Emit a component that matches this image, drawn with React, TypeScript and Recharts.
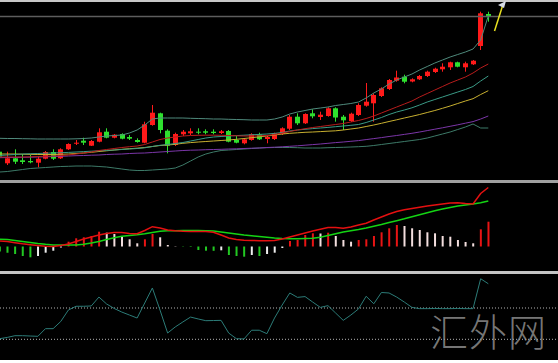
import React from 'react';
import { ComposedChart, Bar, Line, XAxis, YAxis, ReferenceLine, Cell } from 'recharts';

// ---- candle data (65 bars, first one partially cut at the left edge) ----
const opens = [29.3, 17.7, 22.7, 20.7, 20, 18.3, 22.3, 29, 22.7, 31.7, 37.3, 40.3, 35.3, 39.3, 49.3, 43.3, 47, 44, 41, 38.3, 56, 67.7, 50.3, 36, 46.7, 47.7, 49.3, 49.7, 49.3, 48, 50, 41, 37.7, 41, 46.7, 42, 42, 47, 52.3, 64.3, 57.7, 67.7, 64, 65, 72.7, 64.3, 60, 66, 75.3, 77.7, 85, 92, 100.3, 104.3, 99.5, 101.7, 105, 109, 111.7, 113.7, 118.7, 113.7, 116.7, 135, 167];
const closes = [24.3, 22.7, 19.3, 19, 18.7, 22.3, 29, 22.3, 31.7, 37, 38.3, 38.3, 40, 48.7, 43.3, 46.3, 42.3, 42.3, 39, 56.7, 68.3, 51, 35.3, 47, 49.3, 49.7, 48.3, 48.3, 48, 49.7, 39.3, 38.3, 41.7, 46.7, 41.7, 44, 47.7, 52.7, 64.3, 57.7, 67, 64.7, 66.3, 72.7, 63.5, 60.7, 67.3, 76, 79.3, 86, 92.7, 101, 103.5, 99.3, 101.7, 105, 109.3, 112.3, 114.3, 118.7, 114.3, 117.7, 120.3, 167.7, 164.3];
const highs = [31, 29.3, 31.7, 27, 26, 24.3, 30, 31.7, 32.7, 37.7, 41, 43.3, 41, 52.7, 52.7, 47, 47.7, 46, 42.7, 59.3, 76, 68.3, 51.7, 48.3, 51, 52.7, 52.7, 51.7, 51.7, 51, 51, 45, 42.7, 47.7, 48.3, 46, 48.3, 53.7, 66, 67.7, 67.7, 71.7, 69.3, 73.7, 73.7, 66, 68.3, 77.7, 98, 87.7, 93.7, 102, 110.3, 106.3, 102.7, 106, 110.3, 113.3, 117.7, 119.3, 119.3, 119.3, 121, 169.3, 169.3];
const lows = [22, 16, 17, 17, 17.7, 13.7, 21.7, 21, 22, 31, 36, 36, 35, 38.7, 42.7, 42.7, 41.7, 41, 38.3, 37.7, 55.3, 47.7, 27.7, 35, 45, 46, 46.7, 46.7, 46.7, 47, 38.7, 37.7, 36.7, 40.3, 41, 37.7, 41, 46, 51, 56, 57, 62.7, 61, 64.3, 59.3, 51, 59, 65, 74.3, 59.3, 84, 91, 99.3, 97.7, 98.7, 101, 104, 108, 109.3, 111, 113.7, 109.3, 116, 131, 159.3];

// ---- overlays on the price panel ----
const upperBand = [42.7, 42.5, 42.5, 42.3, 42.2, 42, 42, 42, 42, 42, 42.2, 42.5, 43, 44, 45, 45.5, 46, 48, 51, 56, 62, 63, 63, 63, 63, 62.7, 62.5, 62.3, 62, 62, 61.7, 61.5, 61.3, 61, 61, 61, 62, 64, 67, 69, 70.5, 72, 73, 74, 75.5, 76.5, 77.5, 79, 83, 88, 92, 97, 101, 104, 107, 111, 114.5, 118, 121, 124, 126.5, 129, 132, 141, 165];
const lowerBand = [9, 9.5, 10.5, 11.5, 12.5, 13, 13.5, 14, 14.5, 14.7, 15, 15, 15, 14.5, 14, 13, 12, 11, 10.5, 10.5, 11, 11.5, 12, 13, 16, 20, 24, 27, 29, 30.5, 31, 31.5, 32, 32.5, 33, 33.3, 33.5, 33.5, 33.5, 33.3, 33, 33, 33, 33.3, 33.5, 33.7, 34, 34.3, 34.7, 35.5, 36.5, 37.5, 38.5, 39.5, 40.5, 41.5, 43, 45, 47, 49, 51.5, 54, 57, 53, 53];
const midBand = [25.5, 26, 26.5, 27, 27.3, 27.5, 27.8, 28, 28.3, 28.6, 29, 29.4, 29.8, 30.2, 30.6, 31, 31.5, 32, 32.5, 33.2, 34.5, 35.7, 36.5, 37.5, 38.5, 40, 41.5, 43, 44, 44.5, 45, 45.4, 45.8, 46.2, 46.6, 47, 47.6, 48.5, 50, 51, 51.7, 52.4, 53, 53.6, 54.3, 55, 55.7, 56.5, 58.5, 61, 63.5, 66.5, 69, 71, 73.2, 76, 79, 81.5, 84, 86.5, 89, 91.5, 94.5, 100, 105];
const maYellow = [27, 27, 27, 26.8, 26.6, 26.5, 26.5, 26.5, 26.7, 27, 27.5, 28, 28.7, 29.5, 30.2, 31, 31.7, 32.3, 32.8, 33.5, 34.5, 35.5, 36, 36.7, 37.7, 38.4, 39, 39.5, 40, 40.5, 41, 41.7, 42.5, 43.3, 44.2, 45, 46, 47, 47.7, 48.2, 48.7, 49, 49.4, 49.8, 50.2, 51, 52, 53, 54.5, 56, 57.7, 59.5, 61.2, 63, 64.7, 66.5, 68.5, 70.5, 72.7, 75, 77.5, 80, 82.3, 86.5, 90.3];
const maPurple = [23.3, 23.5, 23.5, 23.7, 23.8, 24, 24.2, 24.5, 24.7, 25, 25.3, 25.5, 25.8, 26, 26.5, 26.8, 27, 27.5, 27.8, 28, 28.5, 29, 29.5, 30, 30.5, 30.8, 31, 31.3, 31.5, 31.7, 32, 32.2, 32.5, 32.8, 33, 33.5, 33.8, 34.2, 34.7, 35.2, 35.8, 36.4, 37, 37.7, 38.4, 39, 39.7, 40.4, 41.4, 42.4, 43.4, 44.5, 45.5, 46.6, 47.7, 49, 50.4, 51.8, 53.2, 54.7, 56.2, 57.8, 59.4, 62, 65];
const maRed = [24, 24, 24, 24, 24.2, 24.5, 24.8, 25, 25.5, 26, 27, 28, 29, 30.5, 31.5, 32.5, 33.5, 34.3, 35, 36.5, 39, 41.5, 43, 44, 45, 45.5, 45.7, 45.8, 45.8, 45.7, 45.5, 45.2, 45, 45, 45.2, 45.5, 46.5, 47.8, 49.5, 51, 52.3, 53.5, 54.5, 55.5, 56.5, 57.5, 59, 60.5, 62.5, 65, 68, 71, 74, 77, 80, 84, 87.5, 91, 94.5, 98, 101, 104, 108, 113, 117];
const priceLevel = 164.5;

// ---- MACD panel ----
const macdLine = [5.5, 5, 3.8, 2.7, 1.8, 1, 0.2, 0, 1, 2.5, 5, 7.5, 9.5, 11.5, 13, 14, 14, 13, 12.8, 16, 19.8, 18.5, 16.5, 15.8, 15.3, 15, 15, 15, 14.3, 11.5, 8.5, 7, 6.2, 6, 5.8, 5.8, 6, 7.5, 9.5, 11.5, 13.5, 15.5, 17.2, 19, 19, 18.3, 19.5, 21.5, 23.2, 26.5, 29.5, 32.5, 35, 36.8, 38, 39.3, 40.5, 41.5, 42.5, 43.5, 43.8, 43, 42.5, 53, 59];
const signalLine = [7.2, 7, 6, 5, 4, 3, 2.2, 1.6, 1.5, 1.5, 1.5, 2.3, 3.5, 5, 7, 8.8, 10.2, 11, 11.8, 12.8, 14, 15.3, 15.8, 15.8, 16, 16, 16, 15.8, 15.5, 14.5, 13.5, 12.5, 11.5, 10.8, 10, 9.3, 8.5, 8, 7.8, 7.8, 8, 8.2, 9.3, 11, 12.8, 14.5, 15.8, 17, 18.5, 20.3, 22, 24, 25.8, 27.7, 29.8, 31.8, 33.8, 35.8, 37.5, 39, 40.5, 41.5, 42.5, 43.8, 45.5];
const histogram = [-5, -6.2, -7.5, -9.5, -10.8, -9.5, -6.2, -4.2, -1, 4.8, 8.2, 9.2, 10.5, 14.8, 13.8, 12.5, 9.8, 7.2, 3.2, 7.2, 12.5, 9.2, 1.5, 0.3, -0.3, -0.5, -3.5, -4.2, -4.3, -3.8, -8.5, -9.5, -10.2, -8.5, -9.5, -7.5, -6.2, -1.5, 5.5, 6.5, 11.5, 13.2, 13, 13.8, 10.5, 6.5, 4.8, 6.5, 7.2, 10.5, 14.2, 18.2, 21.5, 20.5, 18.2, 16.5, 14.2, 13.2, 10.5, 9.8, 6.5, 4.5, 3.2, 17.2, 24.8];

// ---- oscillator panel ----
const oscillator = [30.4, 31.2, 32.3, 32.3, 32.1, 31.9, 36.8, 36.8, 41.4, 48.7, 51.1, 51.1, 51.3, 57.0, 52.6, 49.7, 47.4, 45.5, 43.6, 53.2, 62.8, 48.7, 34.0, 37.9, 41.1, 44.2, 43.0, 41.9, 42.0, 42.1, 34.0, 30.4, 30.2, 35.8, 35.8, 33.6, 43.6, 51.9, 59.6, 56.8, 57.3, 53.8, 50.4, 51.5, 46.8, 42.1, 45.5, 49.4, 57.5, 52.7, 59.9, 59.6, 57.0, 53.8, 50.4, 49.6, 49.6, 49.7, 49.6, 49.6, 49.7, 49.6, 49.6, 68.7, 65.5];
const oscLevels = [50, 30];

const RED = '#ff1a1a';
const GREEN = '#2ee02e';
const X_DOMAIN: [number, number] = [0.043, 73.13];
const W = 558;

const rows = opens.map((o, k) => ({
  k,
  open: o,
  close: closes[k],
  high: highs[k],
  low: lows[k],
  upper: upperBand[k],
  lower: lowerBand[k],
  mid: midBand[k],
  yellow: maYellow[k],
  purple: maPurple[k],
  red: maRed[k],
  macd: macdLine[k],
  signal: signalLine[k],
  hist: histogram[k],
  osc: oscillator[k],
}));

const histColor = (k: number) => {
  const v = histogram[k];
  const prev = k > 0 ? histogram[k - 1] : v;
  if (v >= 0) return v >= prev ? '#e81414' : '#f3dede';
  return v <= prev ? '#22c822' : '#eeeeee';
};

const Candle = (props: any) => {
  const { x, y, width, height, payload } = props;
  if (x == null || y == null || !payload) return null;
  const { open, close, high, low } = payload;
  const color = close >= open ? RED : GREEN;
  const top = Math.min(y, y + height);
  const h = Math.abs(height);
  const ratio = high === low ? 0 : h / (high - low);
  const bodyTop = top + (high - Math.max(open, close)) * ratio;
  const bodyH = Math.max(1, Math.abs(open - close) * ratio);
  const cx = Math.round(x + width / 2) + 0.5;
  return (
    <g>
      <line x1={cx} x2={cx} y1={top} y2={top + h} stroke={color} strokeWidth={1} />
      <rect x={cx - width / 2} y={bodyTop} width={width} height={bodyH} fill={color} />
    </g>
  );
};

const margin = { top: 0, right: 0, bottom: 0, left: 0 };

export default function App() {
  return (
    <div style={{ position: 'absolute', left: 0, top: 0, width: W, height: 363, background: '#ffffff', overflow: 'hidden' }}>
      <div style={{ position: 'absolute', left: 0, top: 0, width: W, height: 360, background: '#000' }} />

      {/* price panel */}
      <div style={{ position: 'absolute', left: 0, top: 0 }}>
        <ComposedChart width={W} height={181} data={rows} margin={margin}>
          <XAxis type="number" dataKey="k" domain={X_DOMAIN} hide allowDataOverflow />
          <YAxis type="number" domain={[0, 181]} hide allowDataOverflow />
          <ReferenceLine y={priceLevel} stroke="#5e5e5e" strokeWidth={1.5} />
          <Line dataKey="lower" stroke="#3d7a68" strokeWidth={1} dot={false} isAnimationActive={false} />
          <Line dataKey="purple" stroke="#7b36a8" strokeWidth={1} dot={false} isAnimationActive={false} />
          <Line dataKey="yellow" stroke="#c8b030" strokeWidth={1} dot={false} isAnimationActive={false} />
          <Line dataKey="mid" stroke="#3a9a86" strokeWidth={1} dot={false} isAnimationActive={false} />
          <Line dataKey="red" stroke="#b81c1c" strokeWidth={1} dot={false} isAnimationActive={false} />
          <Line dataKey="upper" stroke="#4f8a7c" strokeWidth={1} dot={false} isAnimationActive={false} />
          <Bar dataKey={(d: any) => [d.low, d.high]} barSize={5} shape={<Candle />} isAnimationActive={false} />
        </ComposedChart>
      </div>

      {/* MACD panel */}
      <div style={{ position: 'absolute', left: 0, top: 183 }}>
        <ComposedChart width={W} height={88} data={rows} margin={margin}>
          <XAxis type="number" dataKey="k" domain={X_DOMAIN} hide allowDataOverflow />
          <YAxis type="number" domain={[-24.5, 63.5]} hide allowDataOverflow />
          <Bar dataKey="hist" barSize={2} isAnimationActive={false}>
            {rows.map((r) => (
              <Cell key={r.k} fill={histColor(r.k)} />
            ))}
          </Bar>
          <Line dataKey="signal" stroke="#14d414" strokeWidth={1.5} dot={false} isAnimationActive={false} />
          <Line dataKey="macd" stroke="#e41010" strokeWidth={1.5} dot={false} isAnimationActive={false} />
        </ComposedChart>
      </div>

      {/* oscillator panel */}
      <div style={{ position: 'absolute', left: 0, top: 274 }}>
        <ComposedChart width={W} height={86} data={rows} margin={margin}>
          <XAxis type="number" dataKey="k" domain={X_DOMAIN} hide allowDataOverflow />
          <YAxis type="number" domain={[16.77, 71.73]} hide allowDataOverflow />
          {oscLevels.map((lv) => (
            <ReferenceLine key={lv} y={lv} stroke="#b4b4b4" strokeWidth={1} strokeDasharray="1 2" />
          ))}
          <Line dataKey="osc" stroke="#2c7c78" strokeWidth={1} dot={false} isAnimationActive={false} />
        </ComposedChart>
      </div>

      {/* panel separators */}
      <div style={{ position: 'absolute', left: 0, top: 0, width: W, height: 2, background: '#c8c8c8' }} />
      <div style={{ position: 'absolute', left: 0, top: 180, width: W, height: 3, background: '#a0a0a0' }} />
      <div style={{ position: 'absolute', left: 0, top: 271, width: W, height: 3, background: '#c4c4c4' }} />

      {/* annotation arrow */}
      <svg style={{ position: 'absolute', left: 0, top: 0 }} width={W} height={40}>
        <line x1={494.5} y1={31} x2={502.5} y2={6} stroke="#e8e020" strokeWidth={1.5} />
        <polygon points="498,5 506,1 504,8" fill="#d8dde8" />
      </svg>

      {/* watermark */}
      <div
        style={{
          position: 'absolute',
          left: 430,
          top: 311,
          fontFamily: '"Noto Sans CJK SC", sans-serif',
          fontSize: 38,
          fontWeight: 300,
          lineHeight: 1,
          letterSpacing: 1,
          color: 'rgba(150,150,150,0.8)',
          whiteSpace: 'nowrap',
        }}
      >
        汇外网
      </div>
    </div>
  );
}
